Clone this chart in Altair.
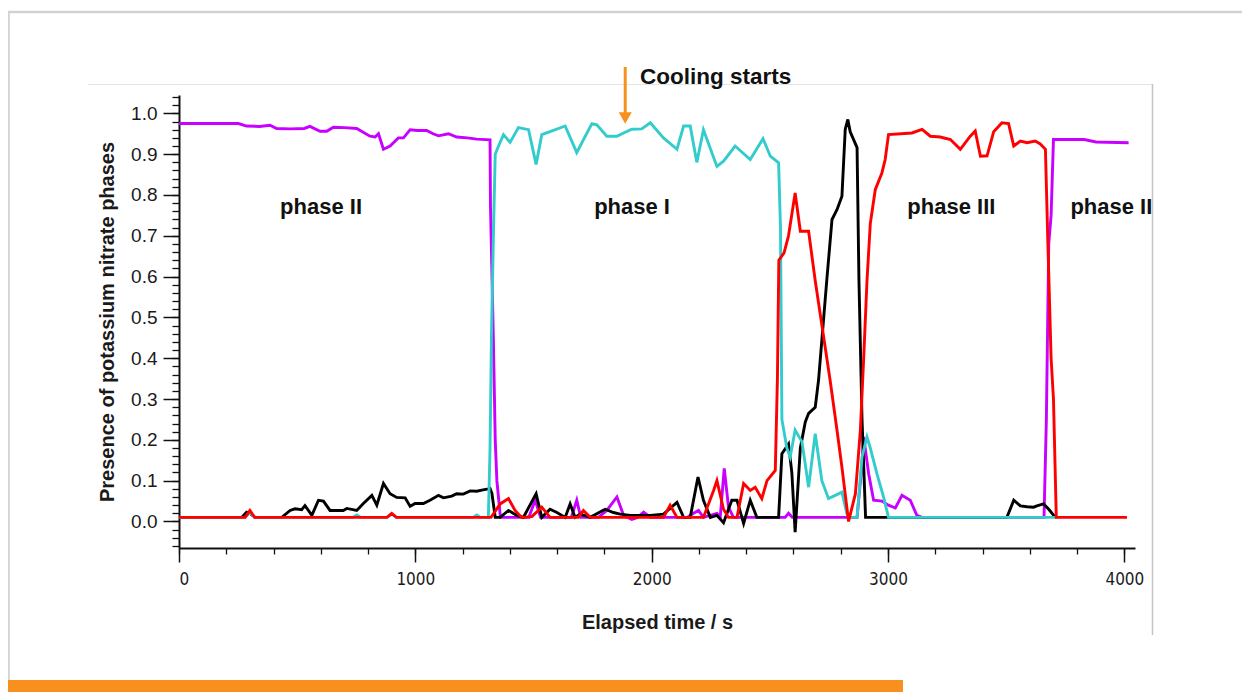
import altair as alt
import pandas as pd

# ---------------- data ----------------
mag_t = [0, 251, 286, 340, 385, 413, 470, 530, 554, 597, 625, 653, 700, 752, 808, 830, 844, 865, 893,
         928, 950, 978, 1010, 1048, 1075, 1098, 1140, 1175, 1220, 1260, 1316, 1318, 1330, 1338, 1345,
         1360, 1480, 1507, 1530, 1660, 1683, 1700, 1775, 1810, 1853, 1881, 1916, 1940, 1966, 1994,
         2150, 2177, 2198, 2219, 2276, 2290, 2307, 2325, 2346, 2565, 2579, 2595, 2869, 2890, 2897,
         2918, 2939, 2974, 3002, 3031, 3059, 3094, 3122, 3144, 3660, 3670, 3680, 3690, 3700, 3830,
         3880, 4018]
mag_v = [0.975, 0.975, 0.969, 0.968, 0.971, 0.963, 0.962, 0.963, 0.968, 0.956, 0.956, 0.966, 0.965,
         0.963, 0.944, 0.942, 0.95, 0.912, 0.92, 0.94, 0.94, 0.96, 0.958, 0.958, 0.95, 0.945, 0.95,
         0.942, 0.94, 0.937, 0.935, 0.77, 0.45, 0.2, 0.1, 0.01, 0.01, 0.052, 0.01, 0.01, 0.052, 0.01,
         0.01, 0.027, 0.06, 0.015, 0.005, 0.01, 0.023, 0.01, 0.01, 0.02, 0.027, 0.01, 0.02, 0.01,
         0.13, 0.035, 0.01, 0.01, 0.02, 0.01, 0.01, 0.142, 0.207, 0.117, 0.052, 0.05, 0.04, 0.033,
         0.064, 0.052, 0.015, 0.01, 0.01, 0.25, 0.68, 0.75, 0.936, 0.936, 0.93, 0.928]

blk_t = [0, 265, 286, 300, 322, 435, 470, 491, 519, 533, 562, 590, 611, 639, 695, 710, 752, 780, 816,
         837, 865, 893, 921, 957, 978, 999, 1034, 1062, 1098, 1119, 1154, 1175, 1203, 1232, 1260,
         1281, 1309, 1316, 1324, 1338, 1359, 1394, 1429, 1457, 1511, 1535, 1570, 1599, 1634, 1655,
         1676, 1697, 1740, 1803, 1838, 1867, 1909, 1994, 2050, 2107, 2135, 2163, 2196, 2219, 2248,
         2276, 2304, 2339, 2361, 2389, 2417, 2445, 2537, 2551, 2579, 2593, 2607, 2629, 2650, 2664,
         2692, 2706, 2741, 2763, 2784, 2805, 2819, 2830, 2840, 2869, 2877, 2890, 2905, 3503, 3532,
         3560, 3588, 3616, 3630, 3658, 3680, 3708]
blk_v = [0.01, 0.01, 0.023, 0.02, 0.01, 0.01, 0.027, 0.031, 0.029, 0.039, 0.015, 0.052, 0.05, 0.027,
         0.027, 0.032, 0.027, 0.044, 0.064, 0.04, 0.093, 0.068, 0.059, 0.058, 0.037, 0.044, 0.044,
         0.052, 0.064, 0.058, 0.062, 0.068, 0.067, 0.075, 0.074, 0.077, 0.08, 0.081, 0.069, 0.01,
         0.01, 0.027, 0.015, 0.01, 0.068, 0.01, 0.03, 0.022, 0.01, 0.043, 0.01, 0.018, 0.01, 0.03,
         0.022, 0.018, 0.015, 0.015, 0.018, 0.047, 0.01, 0.01, 0.109, 0.052, 0.01, 0.015, -0.003,
         0.052, 0.052, -0.005, 0.052, 0.01, 0.01, 0.166, 0.19, 0.12, -0.026, 0.18, 0.244, 0.265,
         0.28, 0.346, 0.592, 0.74, 0.764, 0.797, 0.961, 0.985, 0.955, 0.916, 0.59, 0.25, 0.01, 0.01,
         0.052, 0.038, 0.036, 0.035, 0.038, 0.043, 0.03, 0.01]

cyn_t = [0, 280, 300, 320, 735, 752, 770, 880, 900, 920, 1245, 1260, 1275, 1309, 1316, 1322, 1331,
         1338, 1352, 1373, 1401, 1436, 1479, 1511, 1535, 1570, 1634, 1683, 1747, 1768, 1810, 1853,
         1881, 1916, 1958, 1994, 2050, 2107, 2135, 2163, 2191, 2219, 2276, 2304, 2353, 2417, 2471,
         2502, 2537, 2545, 2551, 2572, 2586, 2607, 2636, 2664, 2692, 2720, 2748, 2777, 2805, 2826,
         2840, 2869, 2890, 2911, 2925, 2953, 2981, 3002, 3720]
cyn_v = [0.01, 0.01, 0.022, 0.01, 0.01, 0.016, 0.01, 0.01, 0.018, 0.01, 0.01, 0.016, 0.01, 0.01,
         0.18, 0.45, 0.72, 0.9, 0.92, 0.948, 0.929, 0.965, 0.96, 0.875, 0.948, 0.955, 0.969, 0.904,
         0.975, 0.972, 0.944, 0.944, 0.952, 0.961, 0.962, 0.977, 0.94, 0.912, 0.969, 0.969, 0.88,
         0.96, 0.87, 0.883, 0.92, 0.887, 0.938, 0.895, 0.879, 0.72, 0.25, 0.18, 0.158, 0.224, 0.195,
         0.084, 0.215, 0.1, 0.056, 0.064, 0.072, 0.019, 0.01, 0.01, 0.158, 0.207, 0.18, 0.117, 0.06,
         0.01, 0.01]

red_t = [0, 280, 300, 320, 880, 900, 920, 1320, 1338, 1359, 1394, 1422, 1450, 1493, 1535, 1570,
         1690, 1711, 1740, 2050, 2078, 2107, 2219, 2262, 2276, 2304, 2325, 2361, 2389, 2417, 2438,
         2466, 2488, 2523, 2532, 2538, 2560, 2579, 2607, 2629, 2664, 2692, 2755, 2784, 2805, 2833,
         2862, 2883, 2897, 2911, 2925, 2946, 2974, 2988, 3002, 3101, 3144, 3179, 3221, 3264, 3306,
         3348, 3369, 3391, 3419, 3447, 3482, 3510, 3532, 3560, 3588, 3623, 3644, 3666, 3676, 3690,
         3700, 3712, 4011]
red_v = [0.01, 0.01, 0.027, 0.01, 0.01, 0.02, 0.01, 0.01, 0.025, 0.043, 0.056, 0.027, 0.01, 0.012,
         0.035, 0.01, 0.01, 0.027, 0.01, 0.01, 0.04, 0.01, 0.01, 0.076, 0.1, 0.03, 0.01, 0.01, 0.093,
         0.076, 0.084, 0.056, 0.1, 0.125, 0.35, 0.64, 0.658, 0.70, 0.805, 0.711, 0.711, 0.59, 0.346,
         0.224, 0.133, 0.0, 0.068, 0.224, 0.40, 0.59, 0.73, 0.813, 0.854, 0.887, 0.948, 0.952,
         0.961, 0.944, 0.942, 0.936, 0.912, 0.944, 0.957, 0.895, 0.896, 0.955, 0.977, 0.975, 0.92,
         0.932, 0.928, 0.932, 0.925, 0.912, 0.69, 0.40, 0.30, 0.01, 0.01]

phase_labels = ["phase II", "phase I", "phase III", "phase II"]
phase_t = [601, 1917, 3268, 3945]
phase_v = [0.771, 0.771, 0.771, 0.771]

cooling_t = [1888]
cooling_text = ["Cooling starts"]
cooling_text_t = [1951]

x_major = [0, 1000, 2000, 3000, 4000]
x_minor = list(range(0, 4045, 200))
y_major = [round(i * 0.1, 1) for i in range(11)]
y_minor = [round(-0.06 + i * 0.02, 2) for i in range(56)]

# ---------------- styling ----------------
FONT = "Liberation Sans"
NARROW = "DejaVu Sans Condensed, Liberation Sans, sans-serif"
ORANGE = "#F7901E"
W, H = 956, 453

xs = alt.Scale(domain=[0, 4045], nice=False, zero=False)
ys = alt.Scale(domain=[-0.065, 1.045], nice=False, zero=False)

major_x = alt.Axis(values=x_major, format="d", orient="bottom", tickSize=14, tickWidth=1.5,
                   tickColor="#111", domainColor="#111", domainWidth=2, labelFont=NARROW,
                   labelFontSize=17, labelColor="#1a1a1a", labelPadding=9, grid=False,
                   title="Elapsed time / s", titleFont=FONT, titleFontSize=20,
                   titleFontWeight="bold", titleColor="#1a1a1a", titlePadding=25,
                   labelOverlap=False)
minor_x = alt.Axis(values=x_minor, orient="bottom", tickSize=6, tickWidth=1.3, tickColor="#111",
                   labels=False, domain=False, grid=False, title=None)
major_y = alt.Axis(values=y_major, format=".1f", orient="left", tickSize=16, tickWidth=1.5,
                   tickColor="#111", domainColor="#111", domainWidth=2, labelFont=FONT,
                   labelFontSize=19, labelColor="#1a1a1a", labelPadding=6, grid=False,
                   title="Presence of potassium nitrate phases", titleFont=FONT,
                   titleFontSize=20, titleFontWeight="bold", titleColor="#1a1a1a",
                   titlePadding=13, labelOverlap=False)
minor_y = alt.Axis(values=y_minor, orient="left", tickSize=7, tickWidth=1.3, tickColor="#111",
                   labels=False, domain=False, grid=False, title=None)


def series_df(t, v):
    return pd.DataFrame({"t": t, "v": v})


def line(t, v, color):
    return alt.Chart(series_df(t, v)).mark_line(color=color, strokeWidth=2.9).encode(
        x=alt.X("t:Q", scale=xs, axis=None),
        y=alt.Y("v:Q", scale=ys, axis=None),
    )


axes_major = alt.Chart(series_df(mag_t, mag_v)).mark_point(opacity=0).encode(
    x=alt.X("t:Q", scale=xs, axis=major_x), y=alt.Y("v:Q", scale=ys, axis=major_y))
axes_minor = alt.Chart(series_df(mag_t, mag_v)).mark_point(opacity=0).encode(
    x=alt.X("t:Q", scale=xs, axis=minor_x), y=alt.Y("v:Q", scale=ys, axis=minor_y))

one = pd.DataFrame({"a": [0]})
deco = [
    alt.Chart(one).mark_rule(color="#d2d2d2", strokeWidth=2.5).encode(
        x=alt.value(-171), x2=alt.value(1063), y=alt.value(-83)),
    alt.Chart(one).mark_rule(color="#d2d2d2", strokeWidth=2.5).encode(
        x=alt.value(-170.5), y=alt.value(-83), y2=alt.value(600)),
    alt.Chart(one).mark_rule(color="#e4e4e4", strokeWidth=1).encode(
        x=alt.value(-91), x2=alt.value(973.5), y=alt.value(-10.5)),
    alt.Chart(one).mark_rule(color="#c4c4c4", strokeWidth=1.5).encode(
        x=alt.value(973.5), y=alt.value(-11), y2=alt.value(540)),
    alt.Chart(one).mark_rect(color=ORANGE).encode(
        x=alt.value(-171), x2=alt.value(724), y=alt.value(585), y2=alt.value(610)),
]

cool_df = pd.DataFrame({"t": cooling_t, "tt": cooling_text_t, "label": cooling_text})
arrow_line = alt.Chart(cool_df).mark_rule(color=ORANGE, strokeWidth=3).encode(
    x=alt.X("t:Q", scale=xs, axis=None), y=alt.value(-28), y2=alt.value(18))
arrow_head = alt.Chart(cool_df).mark_point(shape="triangle-down", filled=True, color=ORANGE,
                                           opacity=1, size=170).encode(
    x=alt.X("t:Q", scale=xs, axis=None), y=alt.value(23))
cool_text = alt.Chart(cool_df).mark_text(font=FONT, fontSize=22.5, fontWeight="bold", color="#111",
                                         align="left", baseline="middle").encode(
    x=alt.X("tt:Q", scale=xs, axis=None), y=alt.value(-18), text="label:N")

phase_df = pd.DataFrame({"t": phase_t, "v": phase_v, "label": phase_labels})
phase_text = alt.Chart(phase_df).mark_text(font=FONT, fontSize=22, fontWeight="bold",
                                           color="#111", align="center",
                                           baseline="middle").encode(
    x=alt.X("t:Q", scale=xs, axis=None), y=alt.Y("v:Q", scale=ys, axis=None), text="label:N")

chart = alt.layer(
    *deco,
    axes_minor,
    axes_major,
    line(mag_t, mag_v, "#C800FF"),
    line(blk_t, blk_v, "#000000"),
    line(cyn_t, cyn_v, "#33CCCC"),
    line(red_t, red_v, "#FF0000"),
    phase_text,
    arrow_line,
    arrow_head,
    cool_text,
).resolve_axis(x="independent", y="independent").properties(
    width=W, height=H,
    background="white",
    padding={"left": 171, "top": 87, "right": 107, "bottom": 144},
    autosize=alt.AutoSizeParams(type="none"),
).configure_view(stroke="transparent", strokeWidth=0)

chart.save("out.html", embed_options={"renderer": "svg", "actions": False})
